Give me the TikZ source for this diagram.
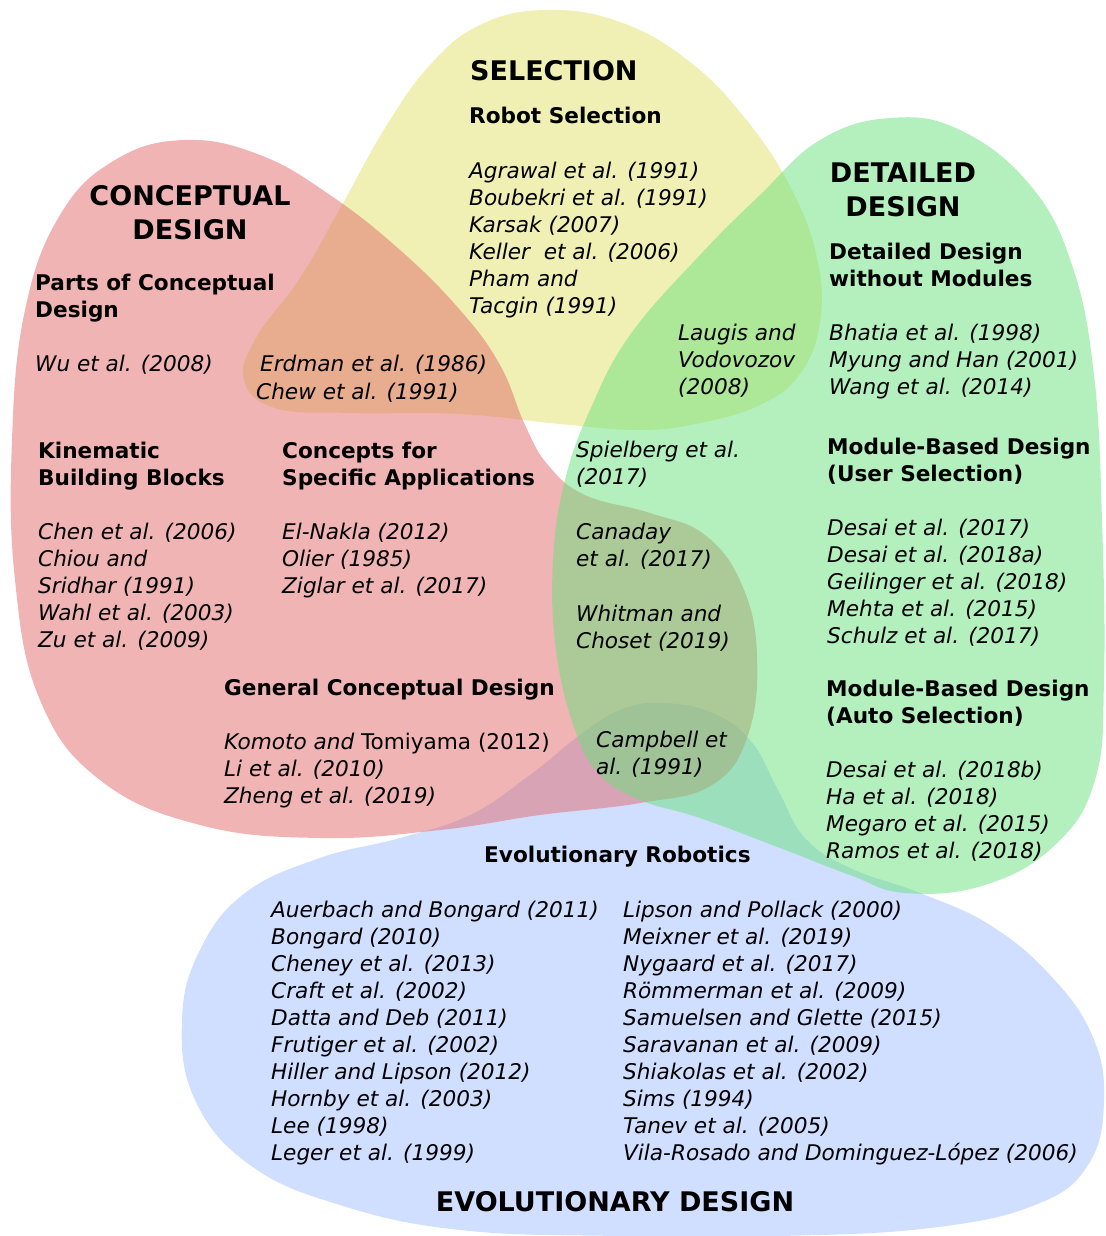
\documentclass[tikz,border=0pt]{standalone}
\usepackage{fontspec}
\setmainfont{DejaVu Sans}
\definecolor{selcol}{RGB}{225,225,105}
\definecolor{concol}{RGB}{225,105,105}
\definecolor{detcol}{RGB}{105,225,125}
\definecolor{evocol}{RGB}{161,189,255}
\newcommand{\linesL}[1]{\begin{tabular}[t]{@{}l@{}}#1\end{tabular}}
\newcommand{\linesC}[1]{\begin{tabular}[t]{@{}c@{}}#1\end{tabular}}
\begin{document}
\begin{tikzpicture}[x=1pt,y=-1pt,
  blob/.style={opacity=0.5},
  ref/.style={anchor=base west, inner sep=0pt, font=\fontsize{21.6}{27}\selectfont\itshape},
  head/.style={anchor=base west, inner sep=0pt, font=\fontsize{21.6}{27}\selectfont\bfseries},
  title/.style={anchor=base, inner sep=0pt, font=\fontsize{27}{34}\selectfont\bfseries},
]
\useasboundingbox (0,0) rectangle (1105,1236);

% --- regions ---
\fill[blob, selcol] plot[smooth cycle, tension=0.7] coordinates {
  (545,10) (620,22) (690,62) (748,122) (792,190) (817,258) (820,322)
  (800,374) (760,405) (700,423) (640,430) (560,424) (460,414) (350,413)
  (275,408) (244,380) (256,338) (300,278) (342,205) (385,128) (430,65)
  (480,25)};
\fill[blob, evocol] plot[smooth cycle, tension=0.7] coordinates {
  (320,858) (400,838) (470,815) (530,775) (580,735) (620,710) (660,703)
  (710,712) (750,740) (778,790) (805,838) (850,868) (920,893) (990,925)
  (1050,975) (1092,1035) (1104,1100) (1088,1165) (1035,1205) (930,1228)
  (780,1236) (620,1236) (460,1230) (340,1205) (250,1165) (195,1100)
  (182,1020) (200,950) (245,893)};
\fill[blob, concol] plot[smooth cycle, tension=0.7] coordinates {
  (185,140) (260,155) (330,195) (400,250) (460,310) (500,365) (525,425)
  (548,465) (585,495) (650,513) (705,535) (742,585) (757,655) (748,735)
  (712,785) (640,803) (540,815) (440,830) (320,838) (200,825) (100,780)
  (40,700) (15,580) (12,440) (25,310) (60,215) (115,160)};
\fill[blob, detcol] plot[smooth cycle, tension=0.7] coordinates {
  (890,118) (960,130) (1030,185) (1072,265) (1094,375) (1102,520)
  (1104,680) (1095,780) (1055,845) (985,885) (905,893) (850,875)
  (780,848) (700,818) (640,800) (600,775) (575,730) (556,650) (553,560)
  (565,480) (590,410) (630,335) (700,255) (760,195) (820,140)};

% --- selection ---
\node[title, anchor=base west] (selT) at (470,81) {SELECTION};
\node[head] (selH) at (469,124) {Robot Selection};
\node[ref] (selR) at (469,178) {\linesL{Agrawal et al. (1991)\\Boubekri et al. (1991)\\Karsak (2007)\\Keller\ \ et al. (2006)\\Pham and\\Tacgin (1991)}};

% --- conceptual design ---
\node[title] (conT) at (190,205) {\linesC{CONCEPTUAL\\DESIGN}};
\node[head] (conH1) at (35,290) {\linesL{Parts of Conceptual\\Design}};
\node[ref] (conR1) at (35,371) {Wu et al. (2008)};
\node[ref] (conY1) at (260,371) {Erdman et al. (1986)};
\node[ref] (conY2) at (256,399) {Chew et al. (1991)};
\node[head] (conH2) at (38,458) {\linesL{Kinematic\\Building Blocks}};
\node[ref] (conR2) at (38,539) {\linesL{Chen et al. (2006)\\Chiou and\\Sridhar (1991)\\Wahl et al. (2003)\\Zu et al. (2009)}};
\node[head] (conH3) at (282,458) {\linesL{Concepts for\\Specific Applications}};
\node[ref] (conR3) at (282,539) {\linesL{El-Nakla (2012)\\Olier (1985)\\Ziglar et al. (2017)}};
\node[head] (conH4) at (224,695) {General Conceptual Design};
\node[ref] (conR4) at (224,749) {\linesL{Komoto and {\upshape Tomiyama (2012)}\\Li et al. (2010)\\Zheng et al. (2019)}};

% --- detailed design ---
\node[title] (detT) at (903,182) {\linesC{DETAILED\\DESIGN}};
\node[head] (detH1) at (829,259) {\linesL{Detailed Design\\without Modules}};
\node[ref] (detR1) at (829,340) {\linesL{Bhatia et al. (1998)\\Myung and Han (2001)\\Wang et al. (2014)}};
\node[head] (detH2) at (827,454) {\linesL{Module-Based Design\\(User Selection)}};
\node[ref] (detR2) at (827,535) {\linesL{Desai et al. (2017)\\Desai et al. (2018a)\\Geilinger et al. (2018)\\Mehta et al. (2015)\\Schulz et al. (2017)}};
\node[head] (detH3) at (826,696) {\linesL{Module-Based Design\\(Auto Selection)}};
\node[ref] (detR3) at (826,777) {\linesL{Desai et al. (2018b)\\Ha et al. (2018)\\Megaro et al. (2015)\\Ramos et al. (2018)}};

% --- overlaps ---
\node[ref] (ovSD) at (678,340) {\linesL{Laugis and\\Vodovozov\\(2008)}};
\node[ref] (ovCD1) at (576,457) {\linesL{Spielberg et al.\\(2017)}};
\node[ref] (ovCD2) at (576,539) {\linesL{Canaday\\et al. (2017)}};
\node[ref] (ovCD3) at (576,621) {\linesL{Whitman and\\Choset (2019)}};
\node[ref] (ovCDE) at (596,747) {\linesL{Campbell et\\al. (1991)}};

% --- evolutionary design ---
\node[head] (evoH) at (484,862) {Evolutionary Robotics};
\node[ref] (evoR1) at (271,917) {\linesL{Auerbach and Bongard (2011)\\Bongard (2010)\\Cheney et al. (2013)\\Craft et al. (2002)\\Datta and Deb (2011)\\Frutiger et al. (2002)\\Hiller and Lipson (2012)\\Hornby et al. (2003)\\Lee (1998)\\Leger et al. (1999)}};
\node[ref] (evoR2) at (623,917) {\linesL{Lipson and Pollack (2000)\\Meixner et al. (2019)\\Nygaard et al. (2017)\\Römmerman et al. (2009)\\Samuelsen and Glette (2015)\\Saravanan et al. (2009)\\Shiakolas et al. (2002)\\Sims (1994)\\Tanev et al. (2005)\\Vila-Rosado and Dominguez-López (2006)}};
\node[title] (evoT) at (615,1211) {EVOLUTIONARY DESIGN};
\end{tikzpicture}
\end{document}
